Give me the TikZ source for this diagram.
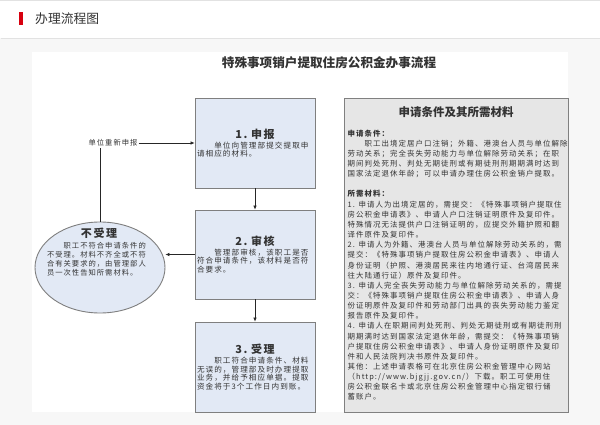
\documentclass[tikz,border=0pt]{standalone}
\usepackage{fontspec}
\setmainfont{Noto Sans CJK SC}
\newfontfamily\cjkw{Noto Sans CJK SC}[LetterSpace=14]
\usepackage{xcolor}
\usepackage{tikz}
\usetikzlibrary{arrows.meta,shapes.geometric}
\setlength\parindent{0pt}
\definecolor{inkc}{HTML}{333333}
\definecolor{boxfill}{HTML}{E2E9F5}
\definecolor{boxline}{HTML}{7F7F7F}
\definecolor{notefill}{HTML}{E6E6E6}
\definecolor{noteline}{HTML}{808080}
\definecolor{pagebg}{HTML}{F7F7F7}
\definecolor{rulec}{HTML}{E2E2E2}
\definecolor{markred}{HTML}{D7000F}
\tikzset{
  ar/.style={-{Latex[length=4pt,width=3.6pt]},line width=0.6pt,black!85},
  ln/.style={line width=0.6pt,black!85},
  stepbox/.style={draw=boxline,line width=0.9pt,fill=boxfill,minimum width=120pt,minimum height=90pt,
    text width=116pt,inner sep=2pt,align=left,text=inkc,font=\cjkw\fontsize{7.6}{8.4}\selectfont},
  notebox/.style={draw=noteline,line width=0.9pt,fill=notefill,minimum width=224pt,minimum height=314pt,inner sep=0pt}
}
\newcommand{\steptitle}[1]{{\centering\bfseries\fontsize{11}{13}\selectfont #1\par}\vspace{1.6pt}}
\begin{document}
\begin{tikzpicture}[x=1pt,y=-1pt]
\useasboundingbox (0,0) rectangle (600,425);
\fill[white] (0,0) rectangle (600,425);
\fill[rulec] (0,0) rectangle (600,1.5);
\fill[markred] (19,12) rectangle (23,25);
\node[anchor=west,inner sep=0pt,text=inkc,font=\fontsize{12.8}{14}\selectfont] (pagehead) at (35,18.5) {办理流程图};
\fill[pagebg] (0,38) rectangle (600,425);
\draw[rulec] (0.5,38) -- (599.5,38);
\fill[white] (32,52) rectangle (568,412);
\node[text=inkc,font=\bfseries\fontsize{12.6}{14}\selectfont] (maintitle) at (329,63) {特殊事项销户提取住房公积金办事流程};
% flow
\node[stepbox] (sb1) at (255,143) {\steptitle{1. 申报}　　单位向管理部提交提取申\\请相应的材料。};
\node[stepbox,minimum height=89pt] (sb2) at (255,254.5) {\steptitle{2. 审核}　　管理部审核，该职工是否\\符合申请条件，该材料是否符\\合要求。};
\node[stepbox] (sb3) at (255,367) {\steptitle{3. 受理}　　职工符合申请条件、材料\\无误的，管理部及时办理提取\\业务，并给予相应单据。提取\\资金将于3个工作日内到账。};
\node[ellipse,draw=boxline,line width=0.9pt,fill=boxfill,minimum width=130pt,minimum height=91pt] (bad) at (100,267.5) {};
\node[text width=104pt,inner sep=0pt,align=left,text=inkc,font=\cjkw\fontsize{7.3}{9}\selectfont] (badtxt) at (99,252) {\steptitle{不受理}　　职工不符合申请条件的\\不受理。材料不齐全或不符\\合有关要求的，由管理部人\\员一次性告知所需材料。};
\node[inner sep=1pt,text=inkc,font=\cjkw\fontsize{7.3}{9}\selectfont] (redo) at (113,143) {单位重新申报};
\draw[ar] (sb1) -- (sb2);
\draw[ar] (sb2) -- (sb3);
\draw[ar] (sb2.west) -- (bad.east |- sb2.west);
\draw[ln] (bad.north) -- (bad.north |- redo.south);
\draw[ar] (redo.east) -- (sb1.west);
% notes
\node[notebox] (notes) at (456,255) {};
\node[text=inkc,font=\bfseries\fontsize{11.5}{13}\selectfont] (notehead) at (456,112) {申请条件及其所需材料};
\node[anchor=north west,inner sep=0pt,text width=220pt,align=left,text=inkc,font=\cjkw\fontsize{7.45}{10.15}\selectfont] (notetext) at (347.5,129.5) {%
\textbf{申请条件：}\\
　　职工出境定居户口注销；外籍、港澳台人员与单位解除\\
劳动关系；完全丧失劳动能力与单位解除劳动关系；在职\\
期间判处死刑、判处无期徒刑或有期徒刑刑期期满时达到\\
国家法定退休年龄；可以申请办理住房公积金销户提取。\\[10.15pt]
\textbf{所需材料：}\\
1. 申请人为出境定居的，需提交：《特殊事项销户提取住\\
房公积金申请表》、申请人户口注销证明原件及复印件。\\
特殊情况无法提供户口注销证明的，应提交外籍护照和翻\\
译件原件及复印件。\\
2. 申请人为外籍、港澳台人员与单位解除劳动关系的，需\\
提交：《特殊事项销户提取住房公积金申请表》、申请人\\
身份证明（护照、港澳居民来往内地通行证、台湾居民来\\
往大陆通行证）原件及复印件。\\
3. 申请人完全丧失劳动能力与单位解除劳动关系的，需提\\
交：《特殊事项销户提取住房公积金申请表》、申请人身\\
份证明原件及复印件和劳动部门出具的丧失劳动能力鉴定\\
报告原件及复印件。\\
4. 申请人在职期间判处死刑、判处无期徒刑或有期徒刑刑\\
期期满时达到国家法定退休年龄，需提交：《特殊事项销\\
户提取住房公积金申请表》、申请人身份证明原件及复印\\
件和人民法院判决书原件及复印件。\\
其他：上述申请表格可在北京住房公积金管理中心网站\\
（http://www.bjgjj.gov.cn/）下载。职工可使用住\\
房公积金联名卡或北京住房公积金管理中心指定银行储\\
蓄账户。};
\end{tikzpicture}
\end{document}
